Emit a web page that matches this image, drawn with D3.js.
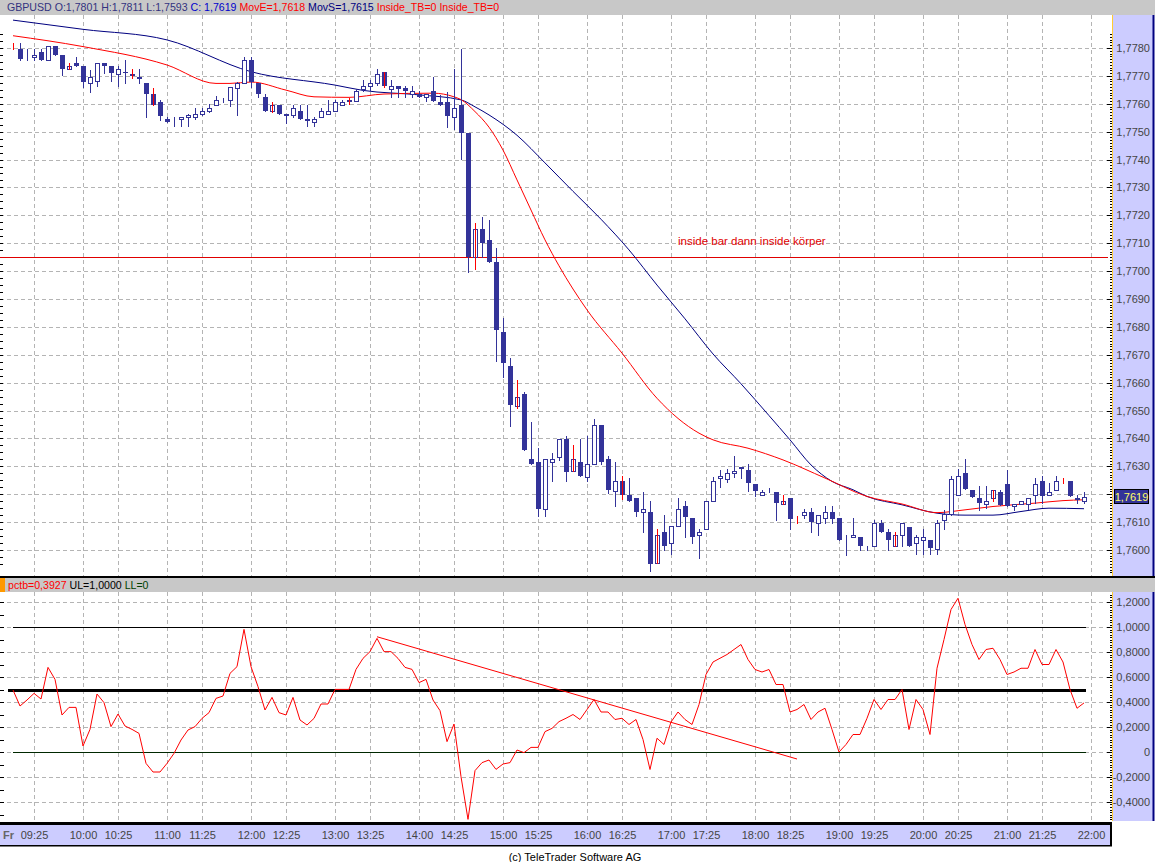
<!DOCTYPE html>
<html><head><meta charset="utf-8">
<script src="https://cdn.jsdelivr.net/npm/d3@7"></script>
<style>
html,body{margin:0;padding:0;background:#fff;}
svg{display:block;font-family:"Liberation Sans",Arial,sans-serif;}
</style></head>
<body><svg id="c" width="1155" height="862"></svg>
<script>
// ---------------- DATA ----------------
const symbol = "GBPUSD";
const dayOpen = 1.7801, dayHigh = 1.7811, dayLow = 1.7593;
const startTime = "09:10";           // time of first 5-min bar
const barMinutes = 5;
const openV = [1.77808,1.77796,1.77775,1.77767,1.77784,1.77757,1.77807,1.77776,1.77724,1.77745,
1.77735,1.77673,1.77683,1.77745,1.77735,1.77706,1.77714,1.77707,1.77696,1.77676,
1.77635,1.77606,1.77545,1.77538,1.77544,1.77554,1.77554,1.77562,1.77573,1.77595,
1.77613,1.77614,1.77655,1.77676,1.77757,1.77673,1.77623,1.77575,1.77596,1.77562,
1.77560,1.77575,1.77545,1.77534,1.77554,1.77562,1.77573,1.77595,1.77612,1.77611,
1.77654,1.77663,1.77673,1.77715,1.77654,1.77664,1.77658,1.77635,1.77635,1.77626,
1.77646,1.77606,1.77606,1.77554,1.77596,1.77494,1.77050,1.77150,1.77112,1.77034,
1.76783,1.76660,1.76518,1.76560,1.76327,1.76317,1.76146,1.76315,1.76335,1.76397,
1.76285,1.76315,1.76263,1.76308,1.76447,1.76326,1.76213,1.76248,1.76198,1.76186,
1.76136,1.76136,1.75953,1.76063,1.76024,1.76087,1.76156,1.76114,1.76054,1.76075,
1.76174,1.76257,1.76256,1.76275,1.76295,1.76287,1.76237,1.76198,1.76216,1.76207,
1.76166,1.76186,1.76113,1.76125,1.76136,1.76096,1.76113,1.76136,1.76113,1.76049,
1.76045,1.76046,1.76015,1.76013,1.76096,1.76063,1.76015,1.76055,1.76084,1.76025,
1.76037,1.76037,1.76003,1.76106,1.76130,1.76198,1.76276,1.76216,1.76186,1.76166,
1.76186,1.76207,1.76237,1.76156,1.76166,1.76166,1.76198,1.76246,1.76198,1.76216,
1.76240,1.76246,1.76186,1.76176];
const highV = [1.77817,1.77817,1.77795,1.77795,1.77796,1.77807,1.77807,1.77776,1.77745,1.77767,
1.77735,1.77721,1.77745,1.77745,1.77735,1.77735,1.77757,1.77725,1.77724,1.77676,
1.77655,1.77614,1.77554,1.77554,1.77554,1.77562,1.77584,1.77586,1.77598,1.77628,
1.77620,1.77661,1.77679,1.77769,1.77769,1.77673,1.77635,1.77606,1.77596,1.77562,
1.77596,1.77596,1.77596,1.77554,1.77584,1.77614,1.77614,1.77614,1.77619,1.77652,
1.77685,1.77685,1.77724,1.77715,1.77685,1.77664,1.77664,1.77664,1.77646,1.77635,
1.77697,1.77632,1.77643,1.77724,1.77795,1.77494,1.77172,1.77195,1.77184,1.77082,
1.76831,1.76688,1.76610,1.76568,1.76458,1.76365,1.76326,1.76347,1.76397,1.76409,
1.76377,1.76397,1.76409,1.76469,1.76447,1.76337,1.76317,1.76266,1.76257,1.76186,
1.76207,1.76176,1.76075,1.76126,1.76087,1.76186,1.76176,1.76114,1.76075,1.76174,
1.76263,1.76287,1.76290,1.76337,1.76297,1.76309,1.76237,1.76216,1.76224,1.76207,
1.76198,1.76186,1.76123,1.76146,1.76150,1.76125,1.76158,1.76158,1.76113,1.76055,
1.76114,1.76046,1.76015,1.76108,1.76108,1.76075,1.76063,1.76096,1.76084,1.76055,
1.76075,1.76037,1.76108,1.76142,1.76266,1.76290,1.76327,1.76216,1.76228,1.76228,
1.76216,1.76216,1.76287,1.76166,1.76176,1.76186,1.76258,1.76266,1.76240,1.76267,
1.76258,1.76246,1.76198,1.76207];
const lowV = [1.77795,1.77758,1.77757,1.77757,1.77758,1.77757,1.77776,1.77703,1.77724,1.77737,
1.77661,1.77643,1.77664,1.77712,1.77683,1.77664,1.77673,1.77692,1.77673,1.77554,
1.77595,1.77542,1.77536,1.77520,1.77520,1.77520,1.77544,1.77560,1.77572,1.77595,
1.77605,1.77592,1.77560,1.77676,1.77661,1.77626,1.77575,1.77572,1.77563,1.77530,
1.77554,1.77547,1.77520,1.77520,1.77554,1.77562,1.77573,1.77595,1.77600,1.77611,
1.77647,1.77650,1.77667,1.77661,1.77623,1.77623,1.77623,1.77623,1.77626,1.77611,
1.77609,1.77597,1.77516,1.77509,1.77401,1.76998,1.77009,1.77050,1.77034,1.76676,
1.76619,1.76446,1.76508,1.76359,1.76309,1.76122,1.76122,1.76246,1.76323,1.76246,
1.76285,1.76267,1.76246,1.76308,1.76308,1.76206,1.76156,1.76183,1.76177,1.76122,
1.76063,1.75923,1.75953,1.76000,1.75985,1.76087,1.76046,1.76024,1.75973,1.76075,
1.76174,1.76226,1.76245,1.76263,1.76257,1.76213,1.76195,1.76198,1.76207,1.76106,
1.76166,1.76075,1.76096,1.76113,1.76063,1.76055,1.76096,1.76096,1.76037,1.75983,
1.76045,1.76001,1.76001,1.76013,1.76066,1.76001,1.76013,1.76013,1.76016,1.75985,
1.75985,1.75985,1.75985,1.76075,1.76126,1.76198,1.76218,1.76190,1.76144,1.76150,
1.76174,1.76162,1.76156,1.76144,1.76166,1.76147,1.76168,1.76168,1.76198,1.76216,
1.76240,1.76192,1.76168,1.76168];
const closeV = [1.77808,1.77759,1.77775,1.77775,1.77758,1.77807,1.77776,1.77726,1.77734,1.77737,
1.77677,1.77695,1.77745,1.77737,1.77709,1.77724,1.77709,1.77698,1.77688,1.77635,
1.77596,1.77557,1.77536,1.77538,1.77554,1.77561,1.77562,1.77574,1.77585,1.77612,
1.77613,1.77661,1.77673,1.77757,1.77678,1.77636,1.77575,1.77596,1.77563,1.77557,
1.77584,1.77547,1.77537,1.77544,1.77574,1.77574,1.77606,1.77606,1.77608,1.77646,
1.77664,1.77673,1.77707,1.77665,1.77664,1.77654,1.77647,1.77646,1.77626,1.77635,
1.77609,1.77597,1.77557,1.77584,1.77496,1.77052,1.77150,1.77102,1.77034,1.76789,
1.76672,1.76520,1.76550,1.76359,1.76309,1.76148,1.76326,1.76326,1.76397,1.76278,
1.76326,1.76267,1.76309,1.76447,1.76317,1.76216,1.76248,1.76198,1.76177,1.76138,
1.76146,1.75949,1.76053,1.76016,1.76087,1.76146,1.76118,1.76048,1.76063,1.76174,
1.76248,1.76265,1.76275,1.76285,1.76297,1.76240,1.76210,1.76207,1.76216,1.76168,
1.76176,1.76110,1.76113,1.76136,1.76099,1.76125,1.76136,1.76111,1.76037,1.76049,
1.76052,1.76015,1.76015,1.76096,1.76066,1.76037,1.76052,1.76096,1.76016,1.76046,
1.76046,1.76006,1.76096,1.76130,1.76254,1.76266,1.76218,1.76190,1.76168,1.76176,
1.76216,1.76162,1.76156,1.76166,1.76176,1.76186,1.76237,1.76195,1.76207,1.76246,
1.76240,1.76192,1.76180,1.76190];
// bars flagged by the Inside_TB study (drawn in red)
const insideBars = [0,8,17,20,37,48,53,66,72,80,87,92,110,112,126,140,150];

// moving averages, read at selected bars
const movEBars = [0,10,22,29,31,34,39,43,48,53,60,63,64,66,68,70,72,74,76,78,82,87,92,98,100,105,110,116,122,127,132,136,140,146,150,153];
const movEVals = [1.77844,1.77805,1.77739,1.77673,1.77673,1.77678,1.77649,1.77625,1.77623,1.77635,1.77638,1.77625,1.77615,1.77572,1.77516,1.77434,1.77327,1.77219,1.77112,1.77019,1.76861,1.76706,1.76544,1.76419,1.76395,1.76365,1.76323,1.76258,1.76192,1.76165,1.76134,1.76144,1.76156,1.76168,1.76177,1.76180];
const movSBars = [0,10,22,34,46,50,58,64,66,68,72,76,80,84,88,92,96,100,104,108,111,114,117,120,122,127,132,136,140,144,148,153];
const movSVals = [1.77900,1.77867,1.77829,1.77715,1.77667,1.77648,1.77632,1.77614,1.77589,1.77560,1.77487,1.77388,1.77286,1.77186,1.77076,1.76950,1.76829,1.76703,1.76596,1.76482,1.76395,1.76305,1.76246,1.76216,1.76192,1.76162,1.76132,1.76125,1.76125,1.76138,1.76150,1.76148];

// %b indicator
const pctb = [0.496,0.368,0.416,0.469,0.424,0.677,0.581,0.296,0.357,0.357,
0.048,0.181,0.464,0.395,0.203,0.304,0.208,0.181,0.149,-0.091,
-0.16,-0.16,-0.091,-0.011,0.096,0.176,0.203,0.269,0.315,0.429,
0.448,0.629,0.683,0.981,0.683,0.523,0.336,0.437,0.315,0.296,
0.437,0.256,0.216,0.269,0.384,0.384,0.501,0.501,0.501,0.661,
0.749,0.803,0.909,0.803,0.803,0.749,0.677,0.661,0.555,0.581,
0.416,0.331,0.083,0.224,-0.197,-0.539,-0.149,-0.085,-0.064,-0.139,
-0.096,-0.085,0.016,-0.005,0.037,0.037,0.163,0.189,0.243,0.27,
0.30,0.26,0.34,0.42,0.32,0.32,0.26,0.27,0.22,0.26,
0.10,-0.14,0.11,0.06,0.24,0.32,0.26,0.22,0.38,0.62,
0.72,0.75,0.78,0.82,0.86,0.74,0.66,0.64,0.66,0.54,
0.54,0.32,0.34,0.38,0.26,0.32,0.35,0.18,0.0,0.06,
0.14,0.14,0.27,0.42,0.34,0.42,0.42,0.50,0.18,0.42,
0.34,0.14,0.67,0.90,1.14,1.23,1.02,0.86,0.74,0.82,
0.83,0.74,0.62,0.64,0.67,0.67,0.82,0.70,0.70,0.82,
0.72,0.50,0.35,0.3927];
const upperLimit = 1.0, midLevel = 0.5, lowerLimit = 0;
const trendBars = [52,112];
const trendVals = [0.922,-0.056];

const hLinePrice = 1.7705;
const annotation = "inside bar dann inside körper";
const annotationBar = 95, annotationPrice = 1.77095;

const priceTicks = [1.7600,1.7610,1.7620,1.7630,1.7640,1.7650,1.7660,1.7670,1.7680,1.7690,1.7700,1.7710,1.7720,1.7730,1.7740,1.7750,1.7760,1.7770,1.7780];
const pctbTicks = [-0.4,-0.2,0,0.2,0.4,0.6,0.8,1.0,1.2];
const timeLabels = ["09:25","10:00","10:25","11:00","11:25","12:00","12:25","13:00","13:25","14:00","14:25","15:00","15:25","16:00","16:25","17:00","17:25","18:00","18:25","19:00","19:25","20:00","20:25","21:00","21:25","22:00"];

// ---------------- DRAW ----------------
const svg = d3.select("#c");
const NAVY = "#333399", GRID = "#b4b4b4", PANEL = "#ccccff", HEAD = "#c8c8c8";
const loc = d3.formatLocale({decimal:",", thousands:".", grouping:[3], currency:["",""], minus:"-"});
const f4 = loc.format(".4f");

const n = closeV.length;
const bars = d3.range(n).map(i => ({i, o:openV[i], h:highV[i], l:lowV[i], c:closeV[i], red: insideBars.includes(i)}));
const toMin = s => {const [h,m]=s.split(":").map(Number); return h*60+m;};
const barOf = s => (toMin(s)-toMin(startTime))/barMinutes;

const x = d3.scaleLinear().domain([0, n-1]).range([13, 13 + 7*(n-1)]);
const yP = d3.scaleLinear().domain([1.7600, 1.7780]).range([550, 48]);
const yB = d3.scaleLinear().domain([0, 1]).range([752, 627]);

const U = {x0:0, x1:1111, y0:15, y1:576};
const L = {x0:0, x1:1111, y0:592, y1:821};

svg.append("rect").attr("width",1155).attr("height",862).attr("fill","#fff");

const defs = svg.append("defs");
defs.append("clipPath").attr("id","clipU").append("rect").attr("x",U.x0).attr("y",U.y0).attr("width",U.x1-U.x0).attr("height",U.y1-U.y0);
defs.append("clipPath").attr("id","clipL").append("rect").attr("x",L.x0).attr("y",L.y0).attr("width",L.x1-L.x0).attr("height",L.y1-L.y0);

// header bars
svg.append("rect").attr("x",0).attr("y",0).attr("width",1155).attr("height",15).attr("fill",HEAD);
svg.append("rect").attr("x",0).attr("y",578).attr("width",1155).attr("height",14).attr("fill",HEAD);
svg.append("rect").attr("x",0).attr("y",578).attr("width",5).attr("height",14).attr("fill","#ff9900");

// right axis panels
[[U.y0,U.y1],[L.y0,L.y1]].forEach(([a,b]) => {
  svg.append("rect").attr("x",1112).attr("y",a).attr("width",41).attr("height",b-a).attr("fill",PANEL);
  svg.append("line").attr("x1",1112.5).attr("x2",1112.5).attr("y1",a).attr("y2",b).attr("stroke","#ffcc33");
  svg.append("line").attr("x1",1153.5).attr("x2",1153.5).attr("y1",a).attr("y2",b).attr("stroke","#000080").attr("stroke-width",2);
});
// separators
svg.append("rect").attr("x",0).attr("y",576).attr("width",1155).attr("height",2).attr("fill","#000");
svg.append("rect").attr("x",0).attr("y",822).attr("width",1112).attr("height",3).attr("fill","#000");
svg.append("rect").attr("x",0).attr("y",825).attr("width",1111).attr("height",20).attr("fill",PANEL);
svg.append("rect").attr("x",0).attr("y",845).attr("width",1112).attr("height",1.5).attr("fill","#000");
svg.append("rect").attr("x",1110).attr("y",822).attr("width",2).attr("height",24).attr("fill","#000");

// grid
const gridG = svg.append("g").attr("stroke",GRID).attr("stroke-dasharray","4,3").attr("shape-rendering","crispEdges");
priceTicks.forEach(p => gridG.append("line").attr("x1",0).attr("x2",1108).attr("y1",Math.round(yP(p))+0.5).attr("y2",Math.round(yP(p))+0.5));
pctbTicks.forEach(v => gridG.append("line").attr("x1",0).attr("x2",1108).attr("y1",Math.round(yB(v))+0.5).attr("y2",Math.round(yB(v))+0.5));
timeLabels.forEach(t => {
  const xx = Math.round(x(barOf(t)))+0.5;
  gridG.append("line").attr("x1",xx).attr("x2",xx).attr("y1",U.y0).attr("y2",U.y1);
  gridG.append("line").attr("x1",xx).attr("x2",xx).attr("y1",L.y0).attr("y2",L.y1+1);
});

// axis tick marks (left edge + right edge minor ticks)
const tk = svg.append("g").attr("stroke","#000").attr("shape-rendering","crispEdges");
d3.range(1.7595, 1.77851, 0.00025).forEach(p => { const yy=Math.round(yP(p))+0.5; if(yy>U.y0&&yy<U.y1) tk.append("line").attr("x1",0).attr("x2",3).attr("y1",yy).attr("y2",yy);});
d3.range(-0.5, 1.31, 0.1).forEach(v => { const yy=Math.round(yB(v))+0.5; if(yy>L.y0&&yy<L.y1) tk.append("line").attr("x1",0).attr("x2",4).attr("y1",yy).attr("y2",yy);});
d3.range(1.7592, 1.77851, 0.0001).forEach(p => { const yy=Math.round(yP(p))+0.5; if(yy>U.y0+1&&yy<U.y1) tk.append("line").attr("x1",1110).attr("x2",1112).attr("y1",yy).attr("y2",yy);});
d3.range(-0.56, 1.3, 0.02).forEach(v => { const yy=Math.round(yB(v))+0.5; if(yy>L.y0+1&&yy<L.y1) tk.append("line").attr("x1",1110).attr("x2",1112).attr("y1",yy).attr("y2",yy);});
priceTicks.forEach(p => { const yy=Math.round(yP(p))+0.5; tk.append("line").attr("x1",1107).attr("x2",1112).attr("y1",yy).attr("y2",yy);});
pctbTicks.forEach(v => { const yy=Math.round(yB(v))+0.5; tk.append("line").attr("x1",1107).attr("x2",1112).attr("y1",yy).attr("y2",yy);});

// right axes labels (the label hidden by the last-price marker is skipped)
const lastC = closeV[n-1];
const ly = yP(lastC);
const visiblePriceTicks = priceTicks.filter(p => Math.abs(yP(p) - ly) > 9);
const axP = svg.append("g").attr("transform","translate(1150,0)")
  .call(d3.axisLeft(yP).tickValues(visiblePriceTicks).tickSize(0).tickPadding(0).tickFormat(f4));
const axB = svg.append("g").attr("transform","translate(1150,0)")
  .call(d3.axisLeft(yB).tickValues(pctbTicks).tickSize(0).tickPadding(0).tickFormat(v => v===0 ? "0" : f4(v)));
[axP,axB].forEach(a => { a.select(".domain").remove(); a.selectAll("text").attr("font-size","11px").attr("fill","#454545").attr("font-family","'Liberation Sans',Arial,sans-serif"); });

// x axis labels
const axX = svg.append("g").attr("transform","translate(0,835)")
  .call(d3.axisBottom(x).tickValues(timeLabels.map(barOf)).tickSize(0).tickPadding(0).tickFormat((d,i)=>timeLabels[i]));
axX.select(".domain").remove();
axX.selectAll("text").attr("dy","0.35em").attr("y",0).attr("font-size","11px").attr("fill","#454545").attr("font-family","'Liberation Sans',Arial,sans-serif");
svg.append("text").attr("x",3).attr("y",839).attr("font-size","11px").attr("font-weight","bold").attr("fill","#666").text("Fr");

// upper plot content
const up = svg.append("g").attr("clip-path","url(#clipU)");
up.append("line").attr("x1",0).attr("x2",1108).attr("y1",Math.round(yP(hLinePrice))+0.5).attr("y2",Math.round(yP(hLinePrice))+0.5).attr("stroke","#e00000").attr("shape-rendering","crispEdges");
up.append("text").attr("x",x(annotationBar)).attr("y",yP(annotationPrice)).attr("font-size","11.5px").attr("fill","#e00000").text(annotation);

const lineP = d3.line().x(d=>x(d[0])).y(d=>yP(d[1])).curve(d3.curveMonotoneX);
up.append("path").attr("d",lineP(movSBars.map((b,k)=>[b,movSVals[k]]))).attr("fill","none").attr("stroke","#000080").attr("stroke-width",1);
up.append("path").attr("d",lineP(movEBars.map((b,k)=>[b,movEVals[k]]))).attr("fill","none").attr("stroke","#ff0000").attr("stroke-width",1);

const cg = up.append("g").attr("shape-rendering","crispEdges");
const cx = d => Math.round(x(d.i))+0.5;
const wick = (sel) => sel.append("line").attr("x1",cx).attr("x2",cx).attr("y1",d=>Math.round(yP(d.h))).attr("y2",d=>Math.round(yP(d.l))+1)
  .attr("stroke",d=>d.red?"#ff0000":NAVY);
cg.selectAll("g.w").data(bars.filter(d=>!d.red)).join("g").attr("class","w").call(wick);
cg.selectAll("rect.b").data(bars).join("rect").attr("class","b")
  .attr("x",d=> d.c>=d.o ? cx(d)-2 : cx(d)-2.5)
  .attr("width",d=> d.c>=d.o ? 4 : 5)
  .attr("y",d=>{const t=Math.round(yP(Math.max(d.o,d.c))); return d.c>=d.o ? t+0.5 : t;})
  .attr("height",d=>{const hh=Math.round(yP(Math.min(d.o,d.c)))-Math.round(yP(Math.max(d.o,d.c))); return d.c>=d.o ? Math.max(hh,0) : Math.max(hh,1);})
  .attr("fill",d=> d.c>=d.o ? "#fff" : NAVY)
  .attr("stroke",d=> d.c>=d.o ? NAVY : "none");
cg.selectAll("g.wr").data(bars.filter(d=>d.red)).join("g").attr("class","wr").call(wick);

// last price marker
svg.append("rect").attr("x",1114.5).attr("y",Math.round(ly)-7.5).attr("width",34).attr("height",14).attr("fill","#333399").attr("stroke","#000");
svg.append("text").attr("x",1131.5).attr("y",Math.round(ly)+4).attr("text-anchor","middle").attr("font-size","11px").attr("fill","#ffff66").text(f4(lastC));

// header texts
const ht = svg.append("text").attr("x",7).attr("y",11).attr("font-size","10.6px");
const lastSMA = movSVals[movSVals.length-1], lastEMA = movEVals[movEVals.length-1];
ht.append("tspan").attr("fill","#333380").text(`${symbol} O:${f4(dayOpen)} H:${f4(dayHigh)} L:${f4(dayLow)} `);
ht.append("tspan").attr("fill","#0000cc").text(`C: ${f4(lastC)} `);
ht.append("tspan").attr("fill","#ff0000").text(`MovE=${f4(lastEMA)} `);
ht.append("tspan").attr("fill","#000080").text(`MovS=${f4(lastSMA)} `);
ht.append("tspan").attr("fill","#ff0000").text("Inside_TB=0 Inside_TB=0");

const lt = svg.append("text").attr("x",8).attr("y",589).attr("font-size","10.6px");
lt.append("tspan").attr("fill","#ff0000").text(`pctb=${f4(pctb[n-1])} `);
lt.append("tspan").attr("fill","#000").text(`UL=${f4(upperLimit)} `);
lt.append("tspan").attr("fill","#004000").text(`LL=${lowerLimit}`);

// lower plot
const lo = svg.append("g").attr("clip-path","url(#clipL)");
const lvl = (v, w, col, x0) => {
  const yy = w>1.5 ? Math.round(yB(v)) : Math.round(yB(v))+0.5;
  lo.append("line").attr("x1",x0).attr("x2",Math.round(x(n-1))+2).attr("y1",yy).attr("y2",yy)
    .attr("stroke",col).attr("stroke-width",w).attr("shape-rendering","crispEdges");
};
lvl(upperLimit, 1, "#000", Math.round(x(0)));
lvl(midLevel, 3, "#000", Math.round(x(0))-5);
lvl(lowerLimit, 1, "#002800", Math.round(x(0)));
lo.append("path").attr("d", d3.line().x((d,i)=>x(i)).y(d=>yB(d))(pctb)).attr("fill","none").attr("stroke","#ff0000").attr("stroke-width",1);
lo.append("path").attr("d", d3.line().x((d,k)=>x(trendBars[k])).y(d=>yB(d))(trendVals)).attr("fill","none").attr("stroke","#ff0000").attr("stroke-width",1);

// copyright
svg.append("text").attr("x",575).attr("y",861).attr("text-anchor","middle").attr("font-size","11px").attr("fill","#000").text("(c) TeleTrader Software AG");
</script></body></html>
